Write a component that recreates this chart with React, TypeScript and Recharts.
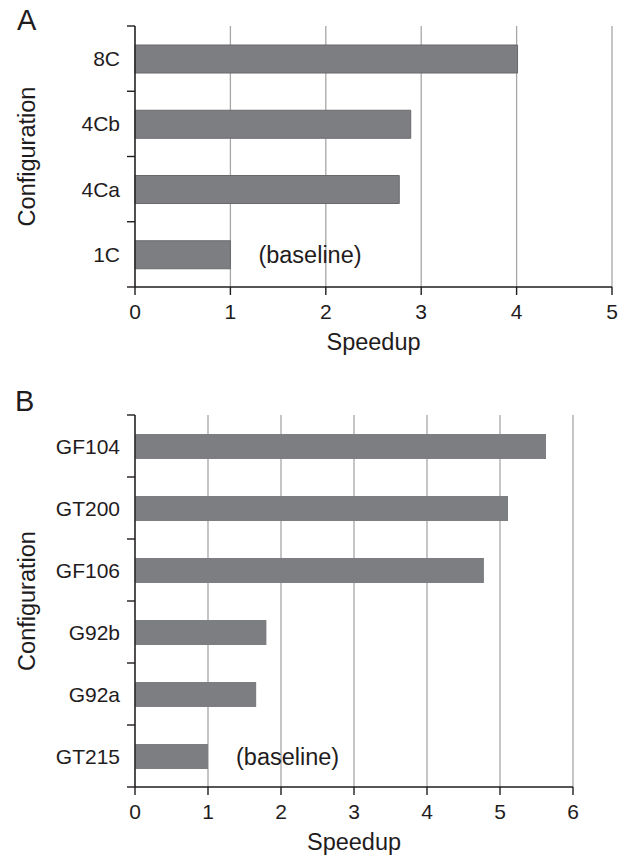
import { Bar, BarChart, CartesianGrid, LabelList, XAxis, YAxis } from "recharts";

const configsA = ["8C", "4Cb", "4Ca", "1C"];
const speedupA = [4.01, 2.89, 2.77, 1.0];
const notesA = ["", "", "", "(baseline)"];
const ticksA = [0, 1, 2, 3, 4, 5];

const configsB = ["GF104", "GT200", "GF106", "G92b", "G92a", "GT215"];
const speedupB = [5.63, 5.11, 4.78, 1.8, 1.66, 1.0];
const notesB = ["", "", "", "", "", "(baseline)"];
const ticksB = [0, 1, 2, 3, 4, 5, 6];

const FONT = "'Liberation Sans', Arial, Helvetica, sans-serif";
const INK = "#1f1c1d";
const BAR = "#7d7e82";
const GRID = "#a7a7a7";
const LABEL_GAP = 15;

const baselineNote = (props: any) => {
  const { x, y, width, height, value } = props;
  if (!value) return null;
  return (
    <text
      x={x + width + 28}
      y={y + height / 2}
      dy="0.36em"
      fontSize={23.5}
      fontFamily={FONT}
      fill={INK}
    >
      {value}
    </text>
  );
};

const yTitle = (props: any) => {
  const { viewBox } = props;
  const cx = viewBox.x + 27;
  const cy = viewBox.y + viewBox.height / 2;
  return (
    <text
      x={cx}
      y={cy}
      transform={`rotate(-90, ${cx}, ${cy})`}
      textAnchor="middle"
      dy="0.36em"
      fontSize={23.5}
      fontFamily={FONT}
      fill={INK}
    >
      Configuration
    </text>
  );
};

const xTitle = (props: any) => {
  const { viewBox } = props;
  return (
    <text
      x={viewBox.x + viewBox.width / 2}
      y={viewBox.y + 63}
      textAnchor="middle"
      fontSize={23.5}
      fontFamily={FONT}
      fill={INK}
    >
      Speedup
    </text>
  );
};

// category label, plus the little tick marks that sit on the band edges
const ConfigTick = (props: any) => {
  const { x, y, payload, index, visibleTicksCount } = props;
  const half = payload.offset || 0;
  const axisX = x + LABEL_GAP;
  const last = index === visibleTicksCount - 1;
  return (
    <g>
      <line x1={axisX - 8} x2={axisX} y1={y - half} y2={y - half} stroke={INK} strokeWidth={1.4} />
      {last && <line x1={axisX - 8} x2={axisX} y1={y + half} y2={y + half} stroke={INK} strokeWidth={1.4} />}
      <text x={x} y={y} dy="0.36em" textAnchor="end" fontSize={21} fontFamily={FONT} fill={INK}>
        {payload.value}
      </text>
    </g>
  );
};

function Panel({
  configs,
  values,
  notes,
  ticks,
  width,
  height,
  margin,
  barSize,
  stroke,
}: {
  configs: string[];
  values: number[];
  notes: string[];
  ticks: number[];
  width: number;
  height: number;
  margin: { top: number; right: number; bottom: number; left: number };
  barSize: number;
  stroke?: string;
}) {
  const data = configs.map((c, i) => ({ config: c, speedup: values[i], note: notes[i] }));
  return (
    <BarChart width={width} height={height} data={data} layout="vertical" margin={margin}>
      <CartesianGrid horizontal={false} stroke={GRID} strokeWidth={1.3} />
      <XAxis
        type="number"
        dataKey="speedup"
        domain={[ticks[0], ticks[ticks.length - 1]]}
        ticks={ticks}
        height={60}
        tickSize={8}
        tickMargin={9}
        stroke={INK}
        strokeWidth={1.4}
        tick={{ fontSize: 21, fontFamily: FONT, fill: INK }}
        label={{ content: xTitle }}
      />
      <YAxis
        type="category"
        dataKey="config"
        width={135}
        tickLine={false}
        tickSize={0}
        tickMargin={LABEL_GAP}
        stroke={INK}
        strokeWidth={1.4}
        tick={<ConfigTick />}
        label={{ content: yTitle }}
      />
      <Bar dataKey="speedup" fill={BAR} stroke={stroke} strokeWidth={1} barSize={barSize} isAnimationActive={false}>
        <LabelList dataKey="note" content={baselineNote} />
      </Bar>
    </BarChart>
  );
}

const letter = (top: number, left: number): React.CSSProperties => ({
  position: "absolute",
  top,
  left,
  fontSize: 29,
  lineHeight: "29px",
  fontFamily: FONT,
  color: INK,
});

export default function App() {
  return (
    <div style={{ position: "absolute", left: 0, top: 0, width: 624, height: 857, background: "#fff" }}>
      <div style={letter(6, 17)}>A</div>
      <div style={letter(387, 15)}>B</div>
      <div style={{ position: "absolute", left: 0, top: 0 }}>
        <Panel
          configs={configsA}
          values={speedupA}
          notes={notesA}
          ticks={ticksA}
          width={624}
          height={380}
          margin={{ top: 26, right: 12, bottom: 33, left: 0 }}
          barSize={28}
          stroke="#69696c"
        />
      </div>
      <div style={{ position: "absolute", left: 0, top: 380 }}>
        <Panel
          configs={configsB}
          values={speedupB}
          notes={notesB}
          ticks={ticksB}
          width={624}
          height={477}
          margin={{ top: 35, right: 51, bottom: 10, left: 0 }}
          barSize={25}
        />
      </div>
    </div>
  );
}
